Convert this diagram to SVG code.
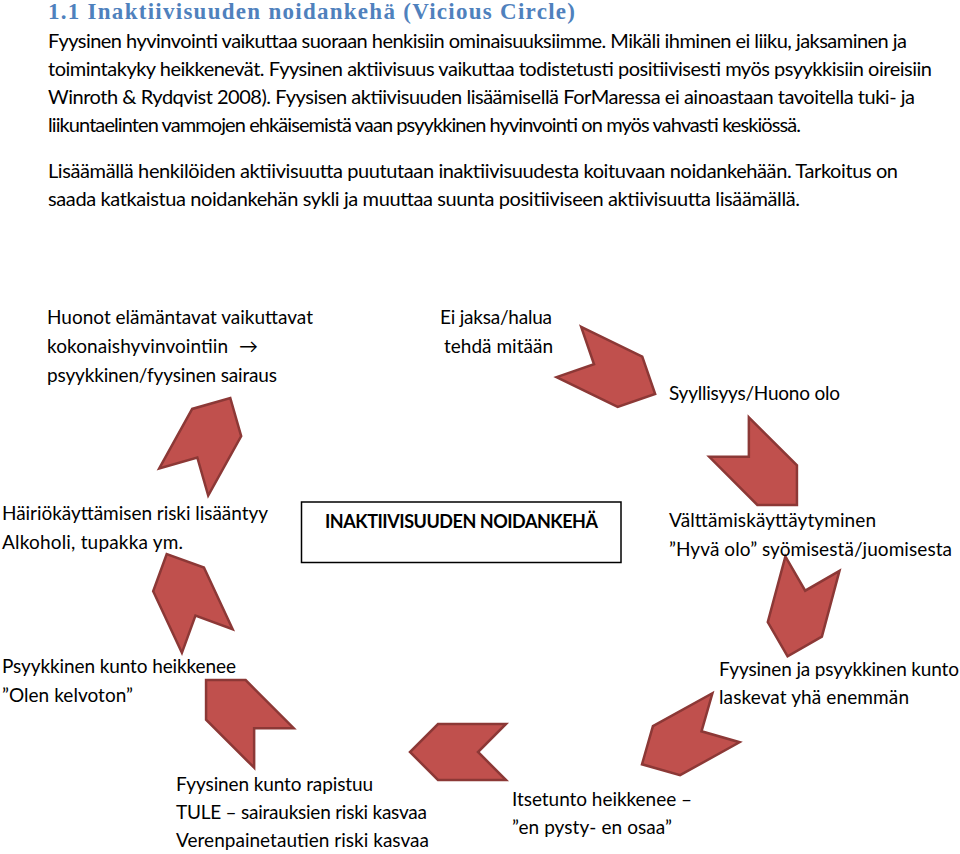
<svg xmlns="http://www.w3.org/2000/svg" xmlns:xlink="http://www.w3.org/1999/xlink" width="960" height="854" viewBox="0 0 960 854">
<style>
.t{font-family:Lato,"Liberation Sans",sans-serif;font-size:19px;fill:#000}
.b{font-family:Lato,"Liberation Sans",sans-serif;font-size:20px;fill:#000}
.title{font-family:"Liberation Serif",serif;font-weight:bold;font-size:23px;fill:#4F81BD}
.chev{fill:#C0504D;stroke:#8C3836;stroke-width:2.5;stroke-linejoin:miter}
.box{fill:#fff;stroke:#000;stroke-width:1.5}
.bold{font-weight:bold;font-size:18px}
</style>
<defs>
<path id="chevron" d="M-48,-28 L20,-28 L48,0 L20,28 L-48,28 L-20,0 Z"/>
</defs>
<rect width="960" height="854" fill="#fff"/>
<g id="intro">
<text class="title" x="48" y="19" textLength="527">1.1 Inaktiivisuuden noidankehä (Vicious Circle)</text>
<text class="b" x="48" y="48" textLength="859">Fyysinen hyvinvointi vaikuttaa suoraan henkisiin ominaisuuksiimme. Mikäli ihminen ei liiku, jaksaminen ja</text>
<text class="b" x="48" y="76" textLength="884">toimintakyky heikkenevät. Fyysinen aktiivisuus vaikuttaa todistetusti positiivisesti myös psyykkisiin oireisiin</text>
<text class="b" x="48" y="104" textLength="867">Winroth &amp; Rydqvist 2008). Fyysisen aktiivisuuden lisäämisellä ForMaressa ei ainoastaan tavoitella tuki- ja</text>
<text class="b" x="48" y="132" textLength="753">liikuntaelinten vammojen ehkäisemistä vaan psyykkinen hyvinvointi on myös vahvasti keskiössä.</text>
<text class="b" x="48" y="178" textLength="850">Lisäämällä henkilöiden aktiivisuutta puututaan inaktiivisuudesta koituvaan noidankehään. Tarkoitus on</text>
<text class="b" x="48" y="206" textLength="752">saada katkaistua noidankehän sykli ja muuttaa suunta positiiviseen aktiivisuutta lisäämällä.</text>
</g>
<g id="connectors">
<use xlink:href="#chevron" class="chev" transform="translate(612,373) rotate(26)"/>
<use xlink:href="#chevron" class="chev" transform="translate(763,471) rotate(45)"/>
<use xlink:href="#chevron" class="chev" transform="translate(800,610) rotate(105)"/>
<use xlink:href="#chevron" class="chev" transform="translate(684,741) rotate(151)"/>
<use xlink:href="#chevron" class="chev" transform="translate(458,752) rotate(180)"/>
<use xlink:href="#chevron" class="chev" transform="translate(240,714) rotate(225)"/>
<use xlink:href="#chevron" class="chev" transform="translate(187,597.5) rotate(245)"/>
<use xlink:href="#chevron" class="chev" transform="translate(207,440) rotate(-61)"/>
</g>
<g id="node-huonot">
<text class="t" x="47" y="324" textLength="266">Huonot elämäntavat vaikuttavat</text>
<text class="t" x="47" y="353" textLength="181">kokonaishyvinvointiin</text>
<text class="t" x="239" y="353">→</text>
<text class="t" x="47" y="382" textLength="230">psyykkinen/fyysinen sairaus</text>
</g>
<g id="node-eijaksa">
<text class="t" x="440" y="324" textLength="112">Ei jaksa/halua</text>
<text class="t" x="444" y="353" textLength="109">tehdä mitään</text>
</g>
<g id="node-syyllisyys">
<text class="t" x="669" y="400" textLength="171">Syyllisyys/Huono olo</text>
</g>
<g id="node-center">
<rect class="box" x="301.5" y="502" width="319.5" height="60.5"/>
<text class="t bold" x="325" y="528" textLength="273">INAKTIIVISUUDEN NOIDANKEHÄ</text>
</g>
<g id="node-hairio">
<text class="t" x="2" y="520" textLength="266">Häiriökäyttämisen riski lisääntyy</text>
<text class="t" x="2" y="549" textLength="181">Alkoholi, tupakka ym.</text>
</g>
<g id="node-valttamis">
<text class="t" x="669" y="527" textLength="207">Välttämiskäyttäytyminen</text>
<text class="t" x="669" y="556" textLength="283">”Hyvä olo” syömisestä/juomisesta</text>
</g>
<g id="node-laskevat">
<text class="t" x="719" y="676" textLength="240">Fyysinen ja psyykkinen kunto</text>
<text class="t" x="719" y="704" textLength="190">laskevat yhä enemmän</text>
</g>
<g id="node-psyykkinen">
<text class="t" x="2" y="673" textLength="234">Psyykkinen kunto heikkenee</text>
<text class="t" x="2" y="702" textLength="131">”Olen kelvoton”</text>
</g>
<g id="node-fyysinen">
<text class="t" x="176" y="791" textLength="197">Fyysinen kunto rapistuu</text>
<text class="t" x="176" y="819" textLength="251">TULE – sairauksien riski kasvaa</text>
<text class="t" x="176" y="847" textLength="253">Verenpainetautien riski kasvaa</text>
</g>
<g id="node-itsetunto">
<text class="t" x="512" y="806" textLength="180">Itsetunto heikkenee –</text>
<text class="t" x="512" y="834" textLength="160">”en pysty- en osaa”</text>
</g>
</svg>
